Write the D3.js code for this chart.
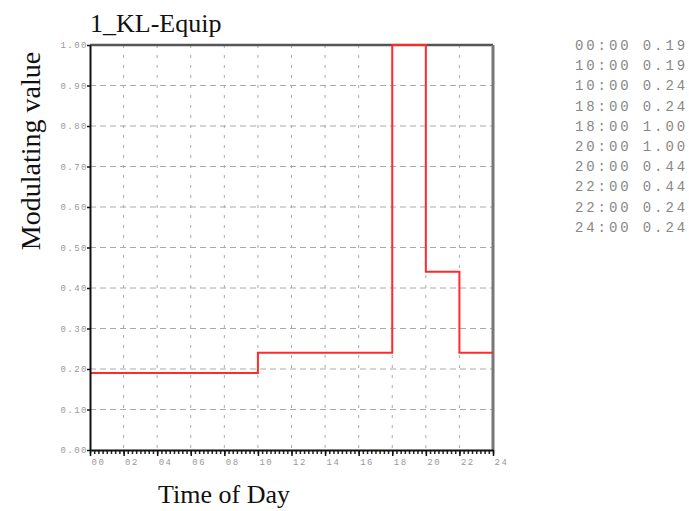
<!DOCTYPE html>
<html>
<head>
<meta charset="utf-8">
<script src="https://cdn.jsdelivr.net/npm/d3@7"></script>
<style>
  body { margin: 0; background: #fff; }
  svg { display: block; }
</style>
</head>
<body>
<div id="main"></div>
<script>
// --- chart data (step profile)
const chartTitle = '1_KL-Equip';
const hours = [0, 10, 10, 18, 18, 20, 20, 22, 22, 24];
const values = [0.19, 0.19, 0.24, 0.24, 1.00, 1.00, 0.44, 0.44, 0.24, 0.24];
const xTicks = d3.range(0, 25, 2);
const yTicks = d3.range(0, 11).map(d => d / 10);

const svgWidth = 689;
const svgHeight = 511;
const margin = { left: 90, right: 196, top: 45, bottom: 61 };
const chartWidth = svgWidth - margin.left - margin.right;
const chartHeight = svgHeight - margin.top - margin.bottom;

const dataset = hours.map((h, i) => ({ h: h, v: values[i] }));

const svg = d3.select('#main')
  .append('svg')
  .attr('width', svgWidth)
  .attr('height', svgHeight);

const xScale = d3.scaleLinear().domain([0, 24]).range([0, chartWidth]);
const yScale = d3.scaleLinear().domain([0, 1]).range([chartHeight, 0]);

const g = svg.append('g')
  .attr('transform', `translate(${margin.left}, ${margin.top})`);

// grid
g.append('g')
  .selectAll('line')
  .data(yTicks.slice(1, -1))
  .enter()
  .append('line')
  .attr('x1', 0).attr('x2', chartWidth)
  .attr('y1', d => yScale(d)).attr('y2', d => yScale(d))
  .attr('stroke', '#aaa')
  .attr('stroke-dasharray', '6,4');

g.append('g')
  .selectAll('line')
  .data(xTicks.slice(1, -1))
  .enter()
  .append('line')
  .attr('x1', d => xScale(d)).attr('x2', d => xScale(d))
  .attr('y1', 0).attr('y2', chartHeight)
  .attr('stroke', '#aaa')
  .attr('stroke-dasharray', '3,7');

// frame: top and right
g.append('line')
  .attr('x1', 0).attr('x2', chartWidth).attr('y1', 0).attr('y2', 0)
  .attr('stroke', '#555').attr('stroke-width', 2.5);
g.append('line')
  .attr('x1', chartWidth).attr('x2', chartWidth).attr('y1', 0).attr('y2', chartHeight)
  .attr('stroke', '#777').attr('stroke-width', 3);

// step line
const line = d3.line()
  .x(d => xScale(d.h))
  .y(d => yScale(d.v));

g.append('path')
  .datum(dataset)
  .attr('fill', 'none')
  .attr('stroke', '#ff2a2a')
  .attr('stroke-width', 2)
  .attr('d', line);

// x axis with minor ticks every 15 min
const xMinor = g.append('g')
  .attr('transform', `translate(0, ${chartHeight})`)
  .call(d3.axisBottom(xScale).tickValues(d3.range(0, 24.01, 0.25)).tickSize(4).tickFormat(''));
xMinor.selectAll('line').attr('stroke', '#222').attr('stroke-width', 1.5);
xMinor.select('.domain').remove();

const xAxis = g.append('g')
  .attr('transform', `translate(0, ${chartHeight})`)
  .call(d3.axisBottom(xScale).tickValues(xTicks).tickSize(6).tickSizeOuter(0)
    .tickFormat(d => d3.format('02d')(d)));
xAxis.select('.domain').attr('stroke', '#111').attr('stroke-width', 2);
xAxis.selectAll('line').attr('stroke', '#111').attr('stroke-width', 1.5);
xAxis.selectAll('text')
  .attr('text-anchor', 'start')
  .attr('x', 1)
  .attr('y', 9)
  .attr('fill', '#999')
  .style('font-family', '"Liberation Mono", monospace')
  .style('font-size', '9px')
  .style('letter-spacing', '1.5px');

const yAxis = g.append('g')
  .call(d3.axisLeft(yScale).tickValues(yTicks).tickSize(3).tickSizeOuter(0)
    .tickFormat(d3.format('.2f')));
yAxis.select('.domain').attr('stroke', '#111').attr('stroke-width', 2);
yAxis.selectAll('line').attr('stroke', '#111').attr('stroke-width', 1.5);
yAxis.selectAll('text')
  .attr('x', -2)
  .attr('fill', '#999')
  .style('font-family', '"Liberation Mono", monospace')
  .style('font-size', '9px')
  .style('letter-spacing', '1.5px');

// titles
svg.append('text')
  .attr('x', 90).attr('y', 32)
  .style('font-family', '"Liberation Serif", serif')
  .style('font-size', '26px')
  .attr('fill', '#111')
  .text(chartTitle);

svg.append('text')
  .attr('x', 224).attr('y', 503)
  .attr('text-anchor', 'middle')
  .style('font-family', '"Liberation Serif", serif')
  .style('font-size', '26px')
  .attr('fill', '#111')
  .text('Time of Day');

svg.append('text')
  .attr('transform', 'translate(40, 151) rotate(-90)')
  .attr('text-anchor', 'middle')
  .style('font-family', '"Liberation Serif", serif')
  .style('font-size', '28px')
  .attr('fill', '#111')
  .text('Modulating value');

// listing of the profile points
const fmtTime = d => d3.format('02d')(d) + ':00';
svg.append('g')
  .selectAll('text')
  .data(dataset)
  .enter()
  .append('text')
  .attr('x', 575)
  .attr('y', (d, i) => 50 + i * 20.2)
  .attr('fill', '#888')
  .style('font-family', '"Liberation Mono", monospace')
  .style('font-size', '14px')
  .style('letter-spacing', '2.9px')
  .style('white-space', 'pre')
  .text(d => fmtTime(d.h) + ' ' + d.v.toFixed(2));
</script>
</body>
</html>
